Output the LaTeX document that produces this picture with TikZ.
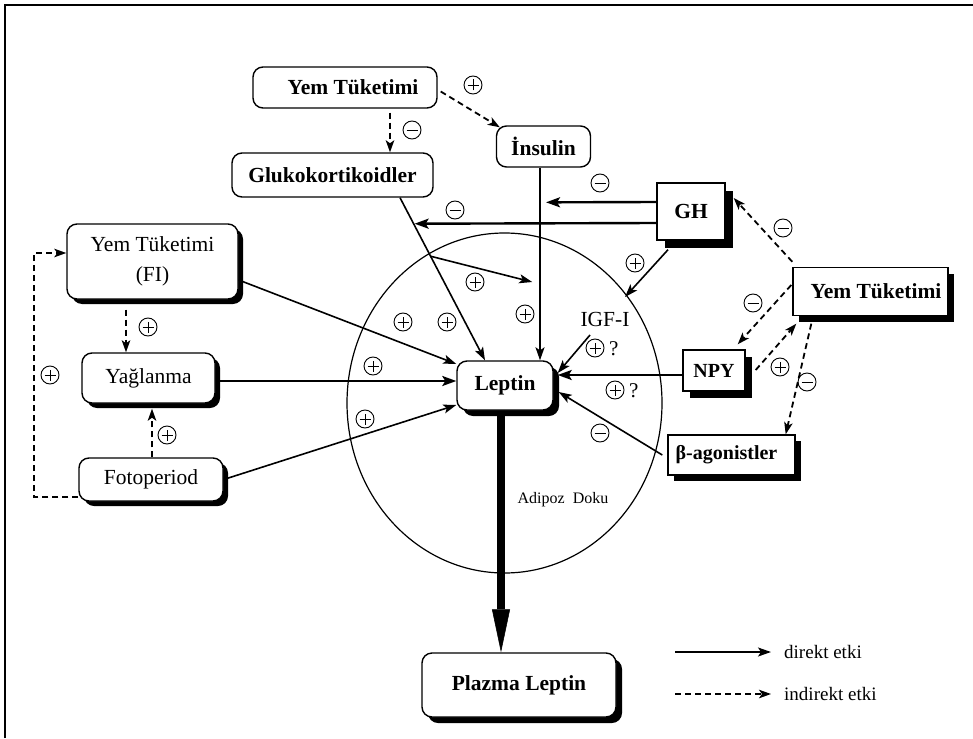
\documentclass[tikz,border=0pt]{standalone}
\usepackage{fontspec}
\setmainfont{Liberation Serif}
\usetikzlibrary{arrows.meta,shadows,shapes.geometric}
\begin{document}
\begin{tikzpicture}[x=1pt,y=-1pt,
  every node/.style={font=\fontsize{21.5}{26}\selectfont},
  rbox/.style={draw,line width=1.4pt,rounded corners=10pt,fill=white,inner sep=0pt,align=center},
  sbox/.style={draw,line width=1.4pt,fill=white,inner sep=0pt,align=center},
  shad/.style={drop shadow={shadow xshift=#1,shadow yshift=-#1,fill=black,opacity=1}},
  bftext/.style={font=\fontsize{21.5}{26}\selectfont\bfseries},
  arr/.style={line width=1.6pt,-{Stealth[length=13pt,width=9pt,inset=3pt]}},
  arrthick/.style={line width=2.4pt,-{Stealth[length=14pt,width=10pt,inset=3pt]}},
  dsh/.style={line width=1.8pt,dash pattern=on 6pt off 4pt,-{Stealth[length=12pt,width=8.5pt,inset=3pt]}},
  sgn/.style={circle,draw,line width=0.9pt,minimum size=18pt,inner sep=0pt},
  splus/.style={sgn,path picture={
     \draw[line width=0.9pt] ([xshift=-5.5pt]path picture bounding box.center) -- ([xshift=5.5pt]path picture bounding box.center);
     \draw[line width=0.9pt] ([yshift=-5.5pt]path picture bounding box.center) -- ([yshift=5.5pt]path picture bounding box.center);}},
  sminus/.style={sgn,path picture={
     \draw[line width=0.9pt] ([xshift=-5.5pt]path picture bounding box.center) -- ([xshift=5.5pt]path picture bounding box.center);}},
  qm/.style={font=\fontsize{21}{24}\selectfont,inner sep=0pt},
]
\useasboundingbox (0,0) rectangle (973,738);
\fill[white] (0,0) rectangle (973,738);
% frame
\draw[line width=1.6pt] (5,738) -- (5,5) -- (973,5);

% adipose tissue
\node[ellipse,draw,line width=1.2pt,minimum width=315pt,minimum height=340pt] (doku) at (504.5,403) {};
\node[font=\fontsize{16}{18}\selectfont,inner sep=0pt] (adi) at (563,500) {Adipoz\ \ Doku};

% boxes
\node[rbox,bftext,minimum width=184pt,minimum height=41pt] (ytop) at (345,87.5) {\hspace*{16pt}Yem Tüketimi};
\node[rbox,bftext,minimum width=201pt,minimum height=44pt] (gluko) at (332.5,175) {Glukokortikoidler};
\node[rbox,bftext,minimum width=94pt,minimum height=41pt] (ins) at (543.5,146.5) {İnsulin};
\node[sbox,bftext,shad=8pt,minimum width=68pt,minimum height=57pt] (gh) at (691,211.5) {GH};
\node[sbox,bftext,shad=6pt,minimum width=155pt,minimum height=48pt] (yr) at (870.5,291.5) {\hspace*{11pt}Yem Tüketimi};
\node[sbox,bftext,shad=7pt,minimum width=62pt,minimum height=41pt,font=\fontsize{20}{24}\selectfont\bfseries] (npy) at (714,370.5) {NPY};
\node[sbox,bftext,shad=6pt,minimum width=127pt,minimum height=40pt,font=\fontsize{20}{24}\selectfont\bfseries] (beta) at (731.5,455) {β-agonistler\hspace*{10pt}};
\node[rbox,bftext,shad=6pt,minimum width=96pt,minimum height=49pt] (lep) at (505,385.5) {Leptin};
\node[rbox,bftext,shad=6pt,minimum width=194pt,minimum height=64pt] (plz) at (519,685) {Plazma Leptin};
\node[rbox,shad=5pt,minimum width=171pt,minimum height=75pt,font=\fontsize{21.5}{30}\selectfont] (fi) at (152.5,261.5) {Yem Tüketimi\\(FI)};
\node[rbox,shad=5pt,minimum width=133pt,minimum height=50pt] (yag) at (148.5,378) {Yağlanma};
\node[rbox,shad=5pt,minimum width=144pt,minimum height=43pt] (foto) at (151,479.5) {Fotoperiod};
\node[inner sep=1pt] (igf) at (605,319) {IGF-I};

% direct effects
\draw[arr] ([xshift=-3.5pt]ins.south) -- coordinate[pos=0.18] (insA) coordinate[pos=0.6] (insB) ([xshift=35pt]lep.north);
\draw[arr] ([xshift=67.5pt]gluko.south) -- coordinate[pos=0.16] (glukA) coordinate[pos=0.36] (glukB) ([xshift=-20pt]lep.north);
\draw[arrthick,shorten >=6pt] ([yshift=9.5pt]gh.west) -- (insA);
\draw[arrthick,shorten >=1pt] ([yshift=-11.5pt]gh.west) -- (glukA);
\draw[arr,shorten >=8pt] (glukB) -- (insB |- 0,284);
\draw[arr] ([yshift=-18.5pt]fi.east) -- ([yshift=21.5pt]lep.west);
\draw[arrthick] ([yshift=-3pt]yag.east) -- ([yshift=4.5pt]lep.west);
\draw[arr] (foto.east) -- ([yshift=-19.5pt]lep.west);
\draw[arr] ([shift={(-23,9)}]gh.south) -- ([shift={(20,-22)}]igf.center);
\draw[arr] ([shift={(-15,16)}]igf.center) -- ([shift={(4,-12.5)}]lep.east);
\draw[arrthick] ([yshift=-4.5pt]npy.west) -- ([shift={(4,-10.5)}]lep.east);
\draw[arr] ([xshift=-5pt]beta.west) -- ([shift={(5,6.5)}]lep.east);
\draw[line width=8pt,-{Triangle[length=43pt,width=18pt,line width=0.5pt]}] ([xshift=-4pt]lep.south) -- ([xshift=-18pt]plz.north);

% indirect effects
\draw[dsh] ([shift={(45,4)}]ytop.south) -- ([xshift=57.5pt]gluko.north);
\draw[dsh] ([shift={(3,4)}]ytop.east) -- ([shift={(4,2)}]ins.north west);
\draw[dsh] ([yshift=5pt]yr.north west) -- ([shift={(8,-13.5)}]gh.east);
\draw[dsh] ([shift={(-1,-6.5)}]yr.west) -- ([shift={(-8,-5)}]npy.north east);
\draw[dsh] ([shift={(10,-0.5)}]npy.east) -- ([shift={(4,7.5)}]yr.south west);
\draw[dsh] ([shift={(19,7.5)}]yr.south west) -- ([xshift=-10pt]beta.north east);
\draw[dsh] ([yshift=-17.5pt]foto.west) -- ++(-44,0) |- ([yshift=8.5pt]fi.west);
\draw[dsh] ([shift={(-26.5,10)}]fi.south) -- ([xshift=-22.5pt]yag.north);
\draw[dsh] ([xshift=1pt]foto.north) -- ([shift={(3.5,5)}]yag.south);

% signs
\node[sminus] (s1) at (412,130) {};
\node[splus] (s2) at (473,85) {};
\node[sminus] (s3) at (600,183) {};
\node[sminus] (s4) at (455,210) {};
\node[splus] (s5) at (475,282) {};
\node[splus] (s6) at (525,314) {};
\node[splus] (s7) at (403,322) {};
\node[splus] (s8) at (447,322) {};
\node[splus] (s9) at (373,366) {};
\node[splus] (s10) at (365,419) {};
\node[splus] (s11) at (635,263) {};
\node[splus] (s12) at (595,348) {};
\node[qm,anchor=west] (q1) at (609,349) {?};
\node[splus] (s13) at (615,390) {};
\node[qm,anchor=west] (q2) at (629,391) {?};
\node[sminus] (s14) at (600,433) {};
\node[sminus] (s15) at (783,228) {};
\node[sminus] (s16) at (753,303) {};
\node[splus] (s17) at (780,367) {};
\node[sminus] (s18) at (807,382) {};
\node[splus] (s19) at (50,375) {};
\node[splus] (s20) at (148,327) {};
\node[splus] (s21) at (167,435) {};

% legend
\node[anchor=west,inner sep=0pt,font=\fontsize{19}{22}\selectfont] (ld) at (784,652) {direkt etki};
\node[anchor=west,inner sep=0pt,font=\fontsize{19}{22}\selectfont] (li) at (784,694) {indirekt etki};
\coordinate (la) at (675,652);
\coordinate (lb) at (675,694);
\draw[arr,shorten >=13pt] (la) -- (ld.west);
\draw[dsh,shorten >=13pt] (lb) -- (li.west);
\end{tikzpicture}
\end{document}
